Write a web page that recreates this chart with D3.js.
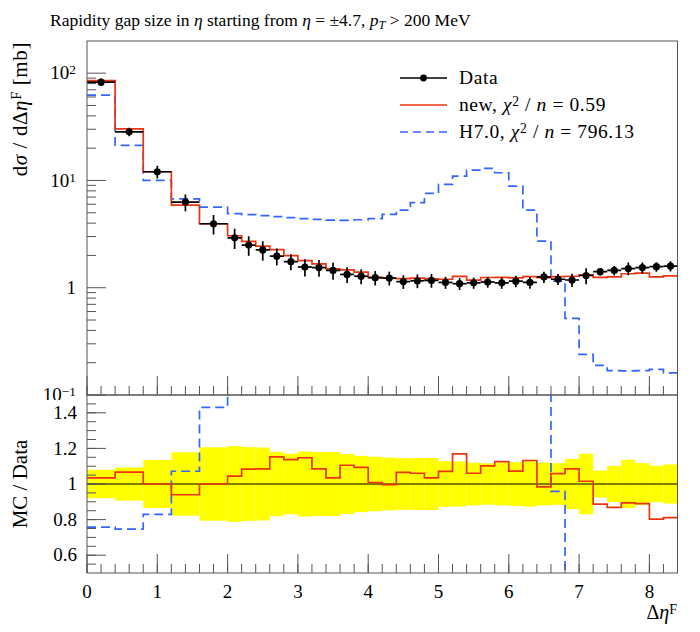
<!DOCTYPE html>
<html>
<head>
<meta charset="utf-8">
<script src="https://cdn.jsdelivr.net/npm/d3@7"></script>
<style>
  body { margin: 0; background: #fff; }
  svg { font-family: "Liberation Serif", "DejaVu Serif", serif; }
</style>
</head>
<body>
<div id="chart"></div>
<script>
// bin edges of delta eta^F
const edges = [0, 0.4, 0.8, 1.2, 1.6, 2.0, 2.2, 2.4, 2.6, 2.8, 3.0, 3.2, 3.4, 3.6, 3.8, 4.0,
  4.2, 4.4, 4.6, 4.8, 5.0, 5.2, 5.4, 5.6, 5.8, 6.0, 6.2, 6.4, 6.6, 6.8, 7.0, 7.2, 7.4,
  7.6, 7.8, 8.0, 8.2, 8.4]

// measured cross section [mb] and its relative uncertainty
const dataVals = [82.5, 28.4, 12.05, 6.28, 3.95, 2.92, 2.50, 2.25, 1.97, 1.75, 1.56, 1.54,
  1.45, 1.33, 1.28, 1.24, 1.23, 1.14, 1.16, 1.17, 1.12, 1.09, 1.11, 1.13, 1.11, 1.15, 1.12,
  1.26, 1.20, 1.18, 1.30, 1.41, 1.45, 1.51, 1.54, 1.57, 1.59]
const dataErr = [0.08, 0.093, 0.135, 0.178, 0.206, 0.213, 0.207, 0.205, 0.181, 0.17, 0.183,
  0.18, 0.18, 0.168, 0.158, 0.153, 0.148, 0.145, 0.146, 0.146, 0.128, 0.127, 0.12, 0.116,
  0.12, 0.123, 0.127, 0.12, 0.117, 0.141, 0.17, 0.076, 0.102, 0.136, 0.117, 0.102, 0.11]

// "new" tune
const newVals = [85.3, 30.3, 12.05, 5.9, 3.95, 3.05, 2.71, 2.44, 2.27, 1.99, 1.79, 1.67,
  1.50, 1.47, 1.40, 1.25, 1.225, 1.215, 1.23, 1.21, 1.20, 1.275, 1.177, 1.245, 1.25, 1.233,
  1.268, 1.24, 1.27, 1.28, 1.32, 1.25, 1.26, 1.35, 1.37, 1.26, 1.29]

// Herwig 7.0
const h7Vals = [62.5, 21.2, 10.0, 6.73, 5.65, 4.9, 4.8, 4.7, 4.6, 4.5, 4.4, 4.33, 4.27,
  4.25, 4.3, 4.4, 4.82, 5.29, 6.2, 7.57, 9.18, 10.97, 12.47, 12.94, 11.8, 8.85, 5.29, 2.72,
  1.15, 0.518, 0.239, 0.189, 0.169, 0.168, 0.169, 0.173, 0.161]

const xTicks = [0, 1, 2, 3, 4, 5, 6, 7, 8]
const ratioTicks = [0.6, 0.8, 1, 1.2, 1.4]
const ratioLabels = ['0.6', '0.8', '1', '1.2', '1.4']
const logTicks = [0.1, 1, 10, 100]

const width = 700
const height = 632
const red = '#ee3311'
const blue = '#3366ff'
const frameCol = '#555'

const svg = d3.select('#chart').append('svg')
  .attr('width', width)
  .attr('height', height)

const x = d3.scaleLinear().domain([0, 8.4]).range([87, 677.5])
const yMain = d3.scaleLog().domain([0.1, 199.5]).range([395, 41])
const yRatio = d3.scaleLinear().domain([0.5, 1.5]).range([573, 395])

// little helper for text with italic / super / subscript pieces
function rich(sel, parts) {
  parts.forEach(p => {
    const ts = sel.append('tspan').text(p.t)
    if (p.i) ts.attr('font-style', 'italic')
    if (p.sup) ts.attr('baseline-shift', '38%').attr('font-size', '70%')
    if (p.sub) ts.attr('baseline-shift', '-22%').attr('font-size', '70%')
  })
  return sel
}

function stepPts(vals) {
  const pts = vals.map((v, i) => [edges[i], v])
  pts.push([edges[edges.length - 1], vals[vals.length - 1]])
  return pts
}

const defs = svg.append('defs')
defs.append('clipPath').attr('id', 'clipMain')
  .append('rect').attr('x', 87).attr('y', 41).attr('width', 590.5).attr('height', 354)
defs.append('clipPath').attr('id', 'clipRatio')
  .append('rect').attr('x', 87).attr('y', 395).attr('width', 590.5).attr('height', 178)

// title
rich(svg.append('text').attr('x', 50).attr('y', 26).attr('font-size', 17.5), [
  { t: 'Rapidity gap size in ' }, { t: 'η', i: true }, { t: ' starting from ' },
  { t: 'η', i: true }, { t: ' = ±4.7, ' }, { t: 'p', i: true }, { t: 'T', i: true, sub: true },
  { t: ' > 200 MeV' }
])

// ---------- main panel ----------
const main = svg.append('g')
const mainPlot = main.append('g').attr('clip-path', 'url(#clipMain)')

const lineMain = d3.line()
  .x(d => x(d[0]))
  .y(d => yMain(d[1]))
  .curve(d3.curveStepAfter)

mainPlot.append('path')
  .attr('d', lineMain(stepPts(h7Vals)))
  .attr('fill', 'none')
  .attr('stroke', blue)
  .attr('stroke-width', 1.7)
  .attr('stroke-dasharray', '9,5')

mainPlot.append('path')
  .attr('d', lineMain(stepPts(newVals)))
  .attr('fill', 'none')
  .attr('stroke', red)
  .attr('stroke-width', 1.7)

const pts = mainPlot.selectAll('g.pt')
  .data(dataVals.map((v, i) => ({ v: v, e: dataErr[i], lo: edges[i], hi: edges[i + 1] })))
  .enter()
  .append('g')
  .attr('class', 'pt')

pts.append('line')
  .attr('x1', d => x(d.lo))
  .attr('x2', d => x(d.hi))
  .attr('y1', d => yMain(d.v))
  .attr('y2', d => yMain(d.v))
  .attr('stroke', 'black')
  .attr('stroke-width', 1.7)
pts.append('line')
  .attr('x1', d => x((d.lo + d.hi) / 2))
  .attr('x2', d => x((d.lo + d.hi) / 2))
  .attr('y1', d => yMain(d.v * (1 - d.e)))
  .attr('y2', d => yMain(d.v * (1 + d.e)))
  .attr('stroke', 'black')
  .attr('stroke-width', 1.7)
pts.append('circle')
  .attr('cx', d => x((d.lo + d.hi) / 2))
  .attr('cy', d => yMain(d.v))
  .attr('r', 3.6)
  .attr('fill', 'black')

// main y ticks (log)
const minorLog = []
for (let k = -1; k <= 2; k++) {
  for (let m = 2; m <= 9; m++) {
    const v = m * Math.pow(10, k)
    if (v < 199.5) minorLog.push(v)
  }
}
main.selectAll('line.ymin').data(minorLog).enter().append('line')
  .attr('x1', 87).attr('x2', 96)
  .attr('y1', d => yMain(d)).attr('y2', d => yMain(d))
  .attr('stroke', frameCol)
main.selectAll('line.ymaj').data(logTicks).enter().append('line')
  .attr('x1', 87).attr('x2', 106)
  .attr('y1', d => yMain(d)).attr('y2', d => yMain(d))
  .attr('stroke', frameCol)

const logLabel = { 0.1: [{ t: '10' }, { t: '−1', sup: true }], 1: [{ t: '1' }],
  10: [{ t: '10' }, { t: '1', sup: true }], 100: [{ t: '10' }, { t: '2', sup: true }] }
logTicks.forEach(v => {
  rich(main.append('text')
    .attr('x', 76).attr('y', yMain(v)).attr('dy', '0.33em')
    .attr('text-anchor', 'end').attr('font-size', 19), logLabel[v])
})

// main x ticks (pointing up from bottom edge)
const minorX = d3.range(0, 8.41, 0.2)
main.selectAll('line.xmin').data(minorX).enter().append('line')
  .attr('x1', d => x(d)).attr('x2', d => x(d))
  .attr('y1', 395).attr('y2', 386)
  .attr('stroke', frameCol)
main.selectAll('line.xmaj').data(xTicks).enter().append('line')
  .attr('x1', d => x(d)).attr('x2', d => x(d))
  .attr('y1', 395).attr('y2', 376)
  .attr('stroke', frameCol)

main.append('rect')
  .attr('x', 87).attr('y', 41).attr('width', 590.5).attr('height', 354)
  .attr('fill', 'none').attr('stroke', frameCol)

// y label
rich(svg.append('text')
  .attr('transform', 'translate(27,42) rotate(-90)')
  .attr('text-anchor', 'end').attr('font-size', 21).attr('letter-spacing', 0.6), [
  { t: 'd' }, { t: 'σ', i: true }, { t: ' / d' }, { t: 'Δ' }, { t: 'η', i: true },
  { t: 'F', sup: true }, { t: ' [mb]' }
])

// legend
const legend = svg.append('g').attr('font-size', 19.5).attr('letter-spacing', 0.6)
legend.append('line').attr('x1', 400).attr('x2', 447).attr('y1', 78).attr('y2', 78)
  .attr('stroke', 'black').attr('stroke-width', 1.7)
legend.append('circle').attr('cx', 423.5).attr('cy', 78).attr('r', 3.4).attr('fill', 'black')
legend.append('line').attr('x1', 400).attr('x2', 447).attr('y1', 105).attr('y2', 105)
  .attr('stroke', red).attr('stroke-width', 1.7)
legend.append('line').attr('x1', 400).attr('x2', 447).attr('y1', 132).attr('y2', 132)
  .attr('stroke', blue).attr('stroke-width', 1.7).attr('stroke-dasharray', '8,5')
legend.append('text').attr('x', 459).attr('y', 84).text('Data')
rich(legend.append('text').attr('x', 459).attr('y', 111), [
  { t: 'new, ' }, { t: 'χ', i: true }, { t: '2', sup: true }, { t: ' / ' },
  { t: 'n', i: true }, { t: ' = 0.59' }
])
rich(legend.append('text').attr('x', 459).attr('y', 138), [
  { t: 'H7.0, ' }, { t: 'χ', i: true }, { t: '2', sup: true }, { t: ' / ' },
  { t: 'n', i: true }, { t: ' = 796.13' }
])

// ---------- ratio panel ----------
svg.append('rect').attr('x', 0).attr('y', 400).attr('width', 86).attr('height', 20).attr('fill', '#fff')

const ratio = svg.append('g')
const ratioPlot = ratio.append('g').attr('clip-path', 'url(#clipRatio)')

ratioPlot.selectAll('rect.band')
  .data(dataErr.map((e, i) => ({ e: e, lo: edges[i], hi: edges[i + 1] })))
  .enter()
  .append('rect')
  .attr('x', d => x(d.lo))
  .attr('width', d => x(d.hi) - x(d.lo))
  .attr('y', d => yRatio(1 + d.e))
  .attr('height', d => yRatio(1 - d.e) - yRatio(1 + d.e))
  .attr('fill', '#ffff00')

ratioPlot.append('line')
  .attr('x1', x(0)).attr('x2', x(8.4))
  .attr('y1', yRatio(1)).attr('y2', yRatio(1))
  .attr('stroke', 'black').attr('stroke-width', 1)

const lineRatio = d3.line()
  .x(d => x(d[0]))
  .y(d => yRatio(d[1]))
  .curve(d3.curveStepAfter)

ratioPlot.append('path')
  .attr('d', lineRatio(stepPts(h7Vals.map((v, i) => v / dataVals[i]))))
  .attr('fill', 'none')
  .attr('stroke', blue)
  .attr('stroke-width', 1.7)
  .attr('stroke-dasharray', '9,5')

ratioPlot.append('path')
  .attr('d', lineRatio(stepPts(newVals.map((v, i) => v / dataVals[i]))))
  .attr('fill', 'none')
  .attr('stroke', red)
  .attr('stroke-width', 1.7)

// ratio y ticks
const minorR = d3.range(0.55, 1.5, 0.05)
ratio.selectAll('line.rmin').data(minorR).enter().append('line')
  .attr('x1', 87).attr('x2', 96)
  .attr('y1', d => yRatio(d)).attr('y2', d => yRatio(d))
  .attr('stroke', frameCol)
ratio.selectAll('line.rmaj').data(ratioTicks).enter().append('line')
  .attr('x1', 87).attr('x2', 106)
  .attr('y1', d => yRatio(d)).attr('y2', d => yRatio(d))
  .attr('stroke', frameCol)
ratio.selectAll('text.rlab').data(ratioTicks).enter().append('text')
  .attr('x', 77).attr('y', d => yRatio(d)).attr('dy', '0.33em')
  .attr('text-anchor', 'end').attr('font-size', 19)
  .text((d, i) => ratioLabels[i])

// ratio x ticks
ratio.selectAll('line.xmin').data(minorX).enter().append('line')
  .attr('x1', d => x(d)).attr('x2', d => x(d))
  .attr('y1', 573).attr('y2', 564)
  .attr('stroke', frameCol)
ratio.selectAll('line.xmaj').data(xTicks).enter().append('line')
  .attr('x1', d => x(d)).attr('x2', d => x(d))
  .attr('y1', 573).attr('y2', 554)
  .attr('stroke', frameCol)
ratio.selectAll('text.xlab').data(xTicks).enter().append('text')
  .attr('x', d => x(d)).attr('y', 598)
  .attr('text-anchor', 'middle').attr('font-size', 19)
  .text(d => d)

ratio.append('rect')
  .attr('x', 87).attr('y', 395).attr('width', 590.5).attr('height', 178)
  .attr('fill', 'none').attr('stroke', frameCol)

svg.append('text')
  .attr('transform', 'translate(27,484) rotate(-90)')
  .attr('text-anchor', 'middle').attr('font-size', 21)
  .text('MC / Data')

rich(svg.append('text')
  .attr('x', 677).attr('y', 619)
  .attr('text-anchor', 'end').attr('font-size', 20), [
  { t: 'Δ' }, { t: 'η', i: true }, { t: 'F', sup: true }
])
</script>
</body>
</html>
